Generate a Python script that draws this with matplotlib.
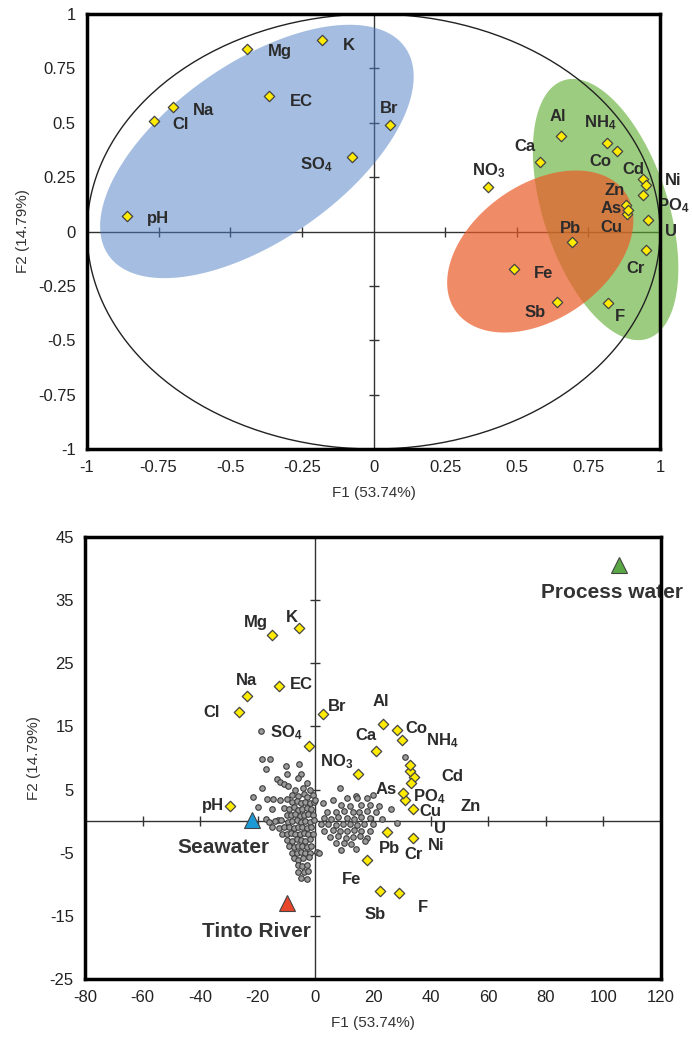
import numpy as np
import matplotlib
matplotlib.use('Agg')
import matplotlib.pyplot as plt

plt.rcParams['font.family'] = ['Liberation Sans', 'DejaVu Sans']
plt.rcParams['axes.unicode_minus'] = False
plt.rcParams['mathtext.fontset'] = 'custom'
plt.rcParams['mathtext.rm'] = 'Liberation Sans:bold'
plt.rcParams['mathtext.default'] = 'rm'

# variable names (same order in both plots)
names = ['pH', 'Cl', 'Na', 'Mg', 'K', 'EC', 'SO$_4$', 'Br', 'NO$_3$', 'Ca', 'Al',
         'NH$_4$', 'Co', 'Cd', 'Ni', 'PO$_4$', 'U', 'Zn', 'As', 'Cu', 'Pb', 'Cr',
         'Fe', 'Sb', 'F']

# loadings (correlation circle)
f1_load = [-0.86, -0.765, -0.70, -0.441, -0.18, -0.365, -0.075, 0.056, 0.40, 0.582,
           0.653, 0.814, 0.85, 0.94, 0.95, 0.939, 0.957, 0.882, 0.884, 0.887, 0.694,
           0.951, 0.49, 0.64, 0.82]
f2_load = [0.069, 0.509, 0.571, 0.838, 0.88, 0.622, 0.342, 0.49, 0.205, 0.319,
           0.437, 0.406, 0.371, 0.24, 0.214, 0.169, 0.054, 0.122, 0.080, 0.100,
           -0.049, -0.087, -0.173, -0.325, -0.33]
off_load = [(31, -2), (26, -4), (31, -3), (33, -2), (27, -5), (32, -5), (-36, -8),
            (0, 16), (0, 16), (-15, 16), (-3, 20), (-6, 21), (-17, -11), (-9, 10),
            (27, 4), (31, -11), (23, -12), (-12, 14), (-16, 6), (-16, -18), (-2, 14),
            (-10, -18), (30, -4), (-22, -10), (11, -13)]

# scores of variables in the biplot
f1_var = [-29.5, -26.5, -23.9, -15.0, -5.7, -12.6, -2.1, 2.7, 14.9, 20.9, 23.4, 30.0,
          28.2, 34.3, 31.2, 33.2, 32.8, 32.8, 30.5, 33.8, 24.7, 34.0, 17.8, 22.4, 29.1]
f2_var = [2.4, 17.3, 19.75, 29.5, 30.6, 21.4, 11.9, 16.9, 7.4, 11.1, 15.4, 12.8, 14.4,
          7.0, 3.3, 6.1, 8.0, 8.9, 4.4, 2.0, -1.8, -2.7, -6.2, -11.0, -11.4]
off_var = [(-17, 0), (-28, -1), (0, 16), (-16, 12), (-7, 10), (22, 2), (-23, 13),
           (14, 8), (-22, 13), (-10, 16), (-2, 22), (40, 0), (20, 2), (38, 0),
           (31, -45), (18, -14), (30, -58), (61, -42), (-17, 4), (18, -3), (3, -16),
           (0, -16), (-15, -19), (-5, -24), (24, -14)]

# end members
src_names = ['Seawater', 'Tinto River', 'Process water']
src_f1 = [-22.1, -9.75, 105.4]
src_f2 = [0.1, -12.9, 40.5]
src_col = ['#1c9ad6', '#e8462a', '#5aa845']
src_off = [(-28, -27), (-31, -29), (-7, -27)]

# samples
smp_f1 = [-19.0, -18.6, -15.8, -17.2, -10.2, -5.6, -10.0, -5.0, -6.0, -13.4, -12.3, -3.0,
          -10.9, -9.4, -7.1, -4.2, -2.0, -18.6, -21.8, -8.0, -6.0, -4.0, -3.0, -1.0,
          -16.9, -14.6, -12.3, -10.0, -8.0, -6.5, -5.0, -3.5, -2.0, -0.5,
          -20.0, -15.0, -11.0, -9.0, -7.5, -6.0, -4.5, -3.0, -1.5,
          -17.0, -13.0, -10.0, -8.5, -7.0, -5.5, -4.0, -2.5, -1.0,
          -16.0, -14.0, -12.0, -9.5, -8.0, -6.5, -5.0, -3.5, -2.0, -0.5,
          -15.0, -12.5, -11.0, -9.0, -7.5, -6.0, -4.5, -3.0, -1.5,
          -11.5, -10.0, -8.5, -7.0, -5.5, -4.0, -2.5, -1.0,
          -10.0, -8.0, -6.5, -5.0, -3.5, -2.0,
          -9.0, -7.5, -6.0, -4.5, -3.0, -1.5,
          -8.0, -6.5, -5.0, -3.5, -2.0, 0.5, 1.4,
          -7.5, -5.9, -4.2, -2.1, -6.0, -4.5, -3.0, -6.0, -4.0, -2.5, -5.0, -3.0,
          0.0, 2.7, 8.5, 14.0, 20.0, 6.0, 10.9, 14.3, 17.8,
          9.0, 12.0, 16.0, 19.0, 22.0, 26.3,
          4.0, 7.0, 10.0, 13.0, 15.0, 18.0, 21.0,
          3.0, 5.5, 8.0, 11.0, 13.5, 16.0, 19.0, 23.0,
          2.0, 4.5, 7.0, 9.5, 12.0, 14.5, 17.0, 20.0, 28.3,
          3.0, 6.0, 8.5, 11.0, 13.5, 16.0, 19.0,
          5.0, 8.0, 10.5, 13.0, 15.5, 18.0,
          7.0, 10.0, 12.5, 17.2, 9.0, 14.0, 31.1]
smp_f2 = [14.3, 9.8, 9.8, 8.3, 8.8, 9.1, 7.5, 7.5, 6.8, 6.6, 6.2, 6.0,
          5.9, 5.5, 4.9, 5.2, 5.0, 5.2, 3.9, 4.2, 4.0, 4.3, 3.9, 4.1,
          3.5, 3.5, 3.4, 3.5, 3.0, 3.2, 2.9, 3.1, 2.8, 3.0,
          2.2, 2.0, 2.1, 1.9, 2.2, 1.8, 2.0, 2.1, 1.9,
          0.3, 0.1, 1.0, 0.9, 1.1, 0.8, 1.0, 1.1, 0.9,
          -0.2, 0.0, 0.1, -0.1, 0.0, 0.1, -0.1, 0.0, -0.1, 0.1,
          -1.0, -1.1, -0.9, -1.0, -1.1, -0.9, -1.0, -1.1, -0.9,
          -2.0, -2.1, -1.9, -2.0, -2.1, -1.9, -2.0, -2.1,
          -3.0, -3.1, -2.9, -3.0, -3.1, -2.9,
          -4.0, -4.1, -3.9, -4.0, -4.1, -3.9,
          -5.0, -5.1, -4.9, -5.0, -5.1, -4.9, -5.1,
          -5.8, -6.1, -5.9, -5.7, -7.0, -7.1, -6.9, -8.0, -8.1, -7.9, -9.0, -9.1,
          3.3, 2.8, 5.2, 4.0, 4.1, 3.4, 3.7, 3.7, 3.6,
          2.5, 2.4, 2.6, 2.5, 2.4, 1.85,
          1.5, 1.4, 1.6, 1.5, 1.4, 1.6, 1.5,
          0.5, 0.4, 0.6, 0.5, 0.4, 0.6, 0.5, 0.4,
          -0.5, -0.4, -0.6, -0.5, -0.4, -0.6, -0.5, -0.4, -0.3,
          -1.5, -1.4, -1.6, -1.5, -1.4, -1.6, -1.5,
          -2.5, -2.4, -2.6, -2.5, -2.4, -2.6,
          -3.5, -3.4, -3.6, -3.1, -4.5, -4.4, 10.2]

# groups on the correlation circle: centre, half axes (F1 units), angle in degrees
grp_cx = [-0.407, 0.810, 0.582]
grp_cy = [0.368, 0.101, -0.092]
grp_a = [0.632, 0.474, 0.361]
grp_b = [0.309, 0.218, 0.235]
grp_ang = [35, -72, 35]
grp_col = ['#4a7cc4', '#5aaa2a', '#eb5a28']
grp_alpha = [0.5, 0.6, 0.7]

fig = plt.figure(figsize=(6.92, 10.44), dpi=100)
ax1 = fig.add_axes([0.1257, 0.5699, 0.8281, 0.4167])
ax2 = fig.add_axes([0.1228, 0.0623, 0.8324, 0.4233])

txt_col = '#2b2b2b'
lab_kw = dict(textcoords='offset pixels', ha='center', va='center', fontsize=12,
              fontweight='bold', color=txt_col, annotation_clip=False)


def frame(ax, xt, yt, xmin, xmax, ymin, ymax, zx, zy):
    ax.set_xlim(xmin, xmax)
    ax.set_ylim(ymin, ymax)
    ax.set_xticks(xt)
    ax.set_yticks(yt)
    ax.set_xticklabels(['{:g}'.format(v) for v in xt])
    ax.set_yticklabels(['{:g}'.format(v) for v in yt])
    ax.tick_params(length=0, labelsize=12, labelcolor='#222222', pad=8)
    for s in ax.spines.values():
        s.set_linewidth(2.5)
        s.set_zorder(8)
    ax.axhline(0, color='#333333', lw=1, zorder=1)
    ax.axvline(0, color='#333333', lw=1, zorder=1)
    ax.plot(zx, np.zeros(len(zx)), ls='none', marker='|', ms=7, color='#333333', mew=1, zorder=1)
    ax.plot(np.zeros(len(zy)), zy, ls='none', marker='_', ms=7, color='#333333', mew=1, zorder=1)
    ax.set_xlabel('F1 (53.74%)', fontsize=11, color='#333333', labelpad=8)
    ax.set_ylabel('F2 (14.79%)', fontsize=11, color='#333333', labelpad=6)


# ---- correlation circle ----
ticks1 = [-1, -0.75, -0.5, -0.25, 0, 0.25, 0.5, 0.75, 1]
frame(ax1, ticks1, ticks1, -1, 1, -1, 1,
      [-0.75, -0.5, -0.25, 0.25, 0.5, 0.75], [-0.75, -0.5, -0.25, 0.25, 0.5, 0.75])

# px per unit on F2 relative to F1 (axes are not square)
r = (0.4167 * 10.44 / 2) / (0.8281 * 6.92 / 2)
t = np.linspace(0, 2 * np.pi, 300)
for cx, cy, a, b, ang, col, al in zip(grp_cx, grp_cy, grp_a, grp_b, grp_ang, grp_col, grp_alpha):
    th = np.radians(ang)
    ex = cx + a * np.cos(t) * np.cos(th) - b * np.sin(t) * np.sin(th)
    ey = cy + (a * np.cos(t) * np.sin(th) + b * np.sin(t) * np.cos(th)) / r
    ax1.fill(ex, ey, color=col, alpha=al, lw=0, zorder=2, clip_on=False)

ax1.plot(np.cos(t), np.sin(t), color='#222222', lw=1, zorder=3)
ax1.scatter(f1_load, f2_load, marker='D', s=28, c='#ffec00', edgecolors='#444444',
            linewidths=0.9, zorder=5)
for n, x, y, o in zip(names, f1_load, f2_load, off_load):
    ax1.annotate(n, (x, y), xytext=o, **lab_kw)

# ---- biplot ----
frame(ax2, list(range(-80, 121, 20)), list(range(-25, 46, 10)), -80, 120, -25, 45,
      [-60, -40, -20, 20, 40, 60, 80, 100], [-15, -5, 5, 15, 25, 35])
ax2.scatter(smp_f1, smp_f2, s=16, c='#9a9a9a', edgecolors='#3c3c3c', linewidths=0.8, zorder=3)
ax2.scatter(f1_var, f2_var, marker='D', s=28, c='#ffec00', edgecolors='#444444',
            linewidths=0.9, zorder=5)
for n, x, y, o in zip(names, f1_var, f2_var, off_var):
    ax2.annotate(n, (x, y), xytext=o, **lab_kw)

for n, x, y, c, o in zip(src_names, src_f1, src_f2, src_col, src_off):
    ax2.plot(x, y, marker='^', ms=12, color=c, mec='#444444', mew=0.8, zorder=6)
    ax2.annotate(n, (x, y), xytext=o, textcoords='offset pixels', ha='center', va='center',
                 fontsize=15, fontweight='bold', color='#333333')

fig.savefig('out.png', dpi=100)
